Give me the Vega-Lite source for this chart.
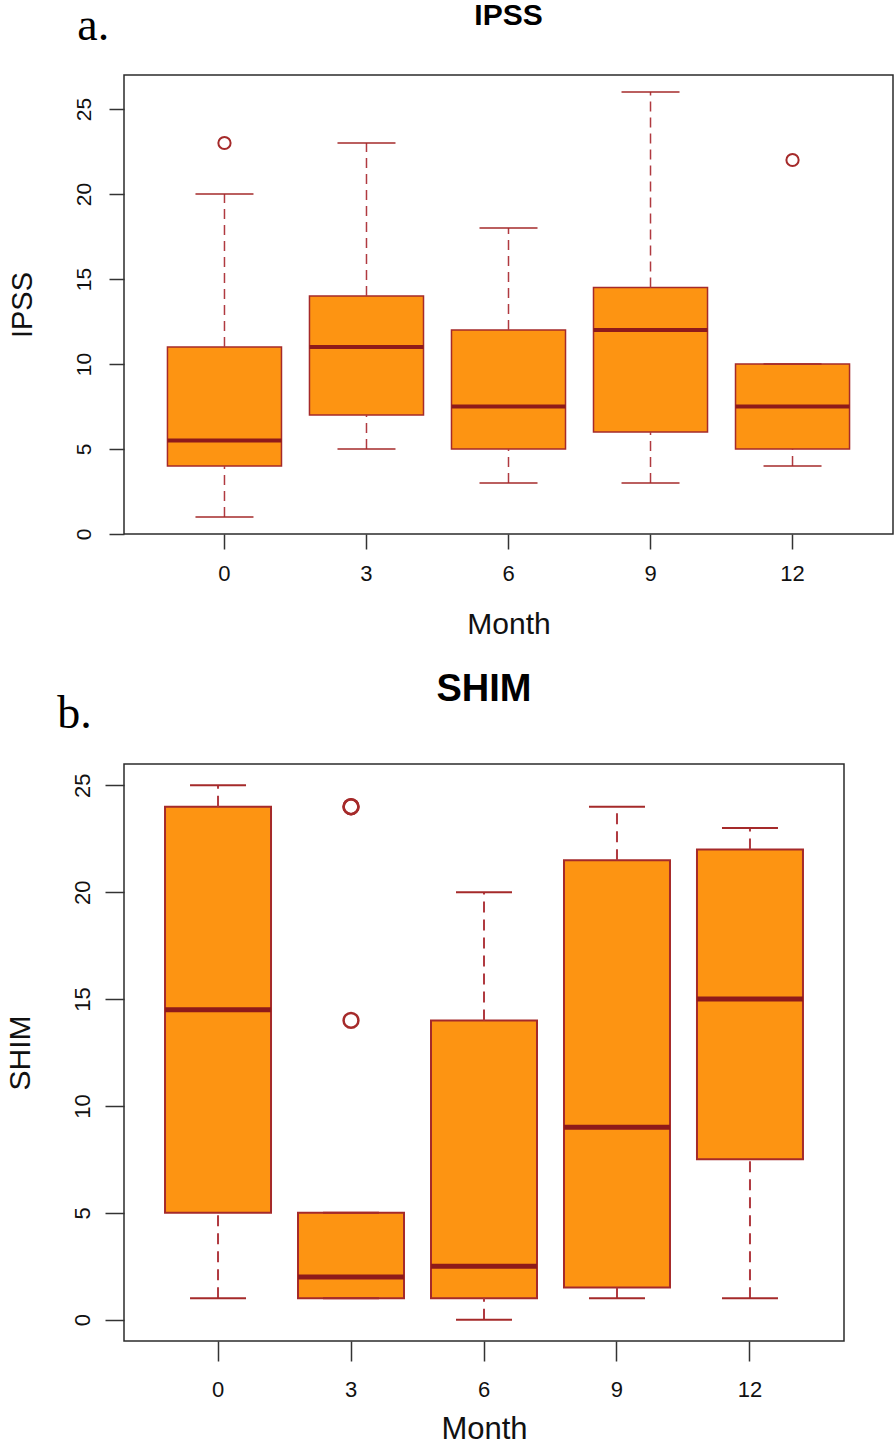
{
  "$schema": "https://vega.github.io/schema/vega-lite/v6.json",
  "padding": {"left": 4, "top": 0, "right": 0, "bottom": 0},
  "background": "white",
  "spacing": 30,
  "config": {
    "font": "Liberation Sans",
    "view": {"stroke": "#2b2b2b", "strokeWidth": 1.5},
    "axis": {"grid": false, "domain": false, "tickColor": "#333333", "tickWidth": 1.5, "labelColor": "#111111", "titleColor": "#111111", "labelFont": "Liberation Sans", "titleFont": "Liberation Sans", "titleFontWeight": "normal"}
  },
  "datasets": {
    "statsA": [
      {"Month": "0", "lower": 1, "q1": 4, "median": 5.5, "q3": 11, "upper": 20},
      {"Month": "3", "lower": 5, "q1": 7, "median": 11, "q3": 14, "upper": 23},
      {"Month": "6", "lower": 3, "q1": 5, "median": 7.5, "q3": 12, "upper": 18},
      {"Month": "9", "lower": 3, "q1": 6, "median": 12, "q3": 14.5, "upper": 26},
      {"Month": "12", "lower": 4, "q1": 5, "median": 7.5, "q3": 10, "upper": 10}
    ],
    "outA": [
      {"Month": "0", "IPSS": 23},
      {"Month": "12", "IPSS": 22}
    ],
    "statsB": [
      {"Month": "0", "lower": 1, "q1": 5, "median": 14.5, "q3": 24, "upper": 25},
      {"Month": "3", "lower": 1, "q1": 1, "median": 2, "q3": 5, "upper": 5},
      {"Month": "6", "lower": 0, "q1": 1, "median": 2.5, "q3": 14, "upper": 20},
      {"Month": "9", "lower": 1, "q1": 1.5, "median": 9, "q3": 21.5, "upper": 24},
      {"Month": "12", "lower": 1, "q1": 7.5, "median": 15, "q3": 22, "upper": 23}
    ],
    "outB": [
      {"Month": "3", "SHIM": 24},
      {"Month": "3", "SHIM": 24},
      {"Month": "3", "SHIM": 14}
    ]
  },
  "vconcat": [
    {
      "title": {"text": "a.", "font": "Liberation Serif", "fontSize": 46, "fontWeight": "normal", "anchor": "start", "frame": "bounds", "dx": 70, "offset": -50, "color": "#000000"},
      "vconcat": [
        {
          "title": {"text": "IPSS", "fontSize": 30, "fontWeight": "bold", "anchor": "middle", "frame": "group", "offset": 44, "color": "#000000"},
          "width": 769,
          "height": 459,
          "encoding": {
            "x": {"field": "Month", "type": "ordinal", "sort": ["0", "3", "6", "9", "12"], "title": "Month",
              "scale": {"paddingInner": 0.197, "paddingOuter": 0.306},
              "axis": {"labelAngle": 0, "tickSize": 15, "labelPadding": 14, "labelFontSize": 22, "titleFontSize": 30, "titlePadding": 25}}
          },
          "layer": [
            {"data": {"name": "statsA"}, "mark": {"type": "bar", "fill": "#FD9412", "stroke": "#A52A2A", "strokeWidth": 1.5},
              "encoding": {"y": {"field": "q3", "type": "quantitative", "title": "IPSS", "scale": {"domain": [0, 27], "nice": false, "zero": false},
                "axis": {"values": [0, 5, 10, 15, 20, 25], "labelAngle": -90, "labelAlign": "center", "labelBaseline": "alphabetic", "labelPadding": 19, "tickSize": 15, "labelFontSize": 21, "titleFontSize": 29, "titlePadding": 36}},
                "y2": {"field": "q1"}}},
            {"data": {"name": "statsA"}, "mark": {"type": "rule", "color": "#B03A40", "strokeWidth": 1.5, "strokeDash": [10, 6]},
              "encoding": {"y": {"field": "q3", "type": "quantitative", "title": "IPSS"}, "y2": {"field": "upper"}}},
            {"data": {"name": "statsA"}, "mark": {"type": "rule", "color": "#B03A40", "strokeWidth": 1.5, "strokeDash": [10, 6]},
              "encoding": {"y": {"field": "lower", "type": "quantitative", "title": "IPSS"}, "y2": {"field": "q1"}}},
            {"data": {"name": "statsA"}, "mark": {"type": "tick", "orient": "horizontal", "color": "#A52A2A", "size": 58, "thickness": 1.5, "opacity": 1},
              "encoding": {"y": {"field": "upper", "type": "quantitative", "title": "IPSS"}}},
            {"data": {"name": "statsA"}, "mark": {"type": "tick", "orient": "horizontal", "color": "#A52A2A", "size": 58, "thickness": 1.5, "opacity": 1},
              "encoding": {"y": {"field": "lower", "type": "quantitative", "title": "IPSS"}}},
            {"data": {"name": "statsA"}, "mark": {"type": "tick", "orient": "horizontal", "color": "#8E1A1A", "size": 114, "thickness": 4, "opacity": 1},
              "encoding": {"y": {"field": "median", "type": "quantitative", "title": "IPSS"}}},
            {"data": {"name": "outA"}, "mark": {"type": "point", "shape": "circle", "filled": false, "color": "#A52A2A", "size": 150, "strokeWidth": 2, "opacity": 1},
              "encoding": {"y": {"field": "IPSS", "type": "quantitative", "title": "IPSS"}}}
          ]
        }
      ]
    },
    {
      "title": {"text": "b.", "font": "Liberation Serif", "fontSize": 46, "fontWeight": "normal", "anchor": "start", "frame": "bounds", "dx": 53, "offset": -68, "color": "#000000"},
      "vconcat": [
        {
          "title": {"text": "SHIM", "fontSize": 38, "fontWeight": "bold", "anchor": "middle", "frame": "group", "offset": 55, "color": "#000000"},
          "width": 720,
          "height": 577,
          "encoding": {
            "x": {"field": "Month", "type": "ordinal", "sort": ["0", "3", "6", "9", "12"], "title": "Month",
              "scale": {"paddingInner": 0.203, "paddingOuter": 0.3085},
              "axis": {"labelAngle": 0, "tickSize": 20, "labelPadding": 18, "labelFontSize": 22, "titleFontSize": 31, "titlePadding": 14}}
          },
          "layer": [
            {"data": {"name": "statsB"}, "mark": {"type": "bar", "fill": "#FD9412", "stroke": "#A52A2A", "strokeWidth": 2},
              "encoding": {"y": {"field": "q3", "type": "quantitative", "title": "SHIM", "scale": {"domain": [-1, 26], "nice": false, "zero": false},
                "axis": {"values": [0, 5, 10, 15, 20, 25], "labelAngle": -90, "labelAlign": "center", "labelBaseline": "alphabetic", "labelPadding": 16, "tickSize": 19, "labelFontSize": 22, "titleFontSize": 30, "titlePadding": 36}},
                "y2": {"field": "q1"}}},
            {"data": {"name": "statsB"}, "mark": {"type": "rule", "color": "#B03A40", "strokeWidth": 2, "strokeDash": [11, 7]},
              "encoding": {"y": {"field": "q3", "type": "quantitative", "title": "SHIM"}, "y2": {"field": "upper"}}},
            {"data": {"name": "statsB"}, "mark": {"type": "rule", "color": "#B03A40", "strokeWidth": 2, "strokeDash": [11, 7]},
              "encoding": {"y": {"field": "lower", "type": "quantitative", "title": "SHIM"}, "y2": {"field": "q1"}}},
            {"data": {"name": "statsB"}, "mark": {"type": "tick", "orient": "horizontal", "color": "#A52A2A", "size": 56, "thickness": 2, "opacity": 1},
              "encoding": {"y": {"field": "upper", "type": "quantitative", "title": "SHIM"}}},
            {"data": {"name": "statsB"}, "mark": {"type": "tick", "orient": "horizontal", "color": "#A52A2A", "size": 56, "thickness": 2, "opacity": 1},
              "encoding": {"y": {"field": "lower", "type": "quantitative", "title": "SHIM"}}},
            {"data": {"name": "statsB"}, "mark": {"type": "tick", "orient": "horizontal", "color": "#8E1A1A", "size": 106, "thickness": 5, "opacity": 1},
              "encoding": {"y": {"field": "median", "type": "quantitative", "title": "SHIM"}}},
            {"data": {"name": "outB"}, "mark": {"type": "point", "shape": "circle", "filled": false, "color": "#A52A2A", "size": 220, "strokeWidth": 2.5, "opacity": 1},
              "encoding": {"y": {"field": "SHIM", "type": "quantitative", "title": "SHIM"}}}
          ]
        }
      ]
    }
  ]
}
